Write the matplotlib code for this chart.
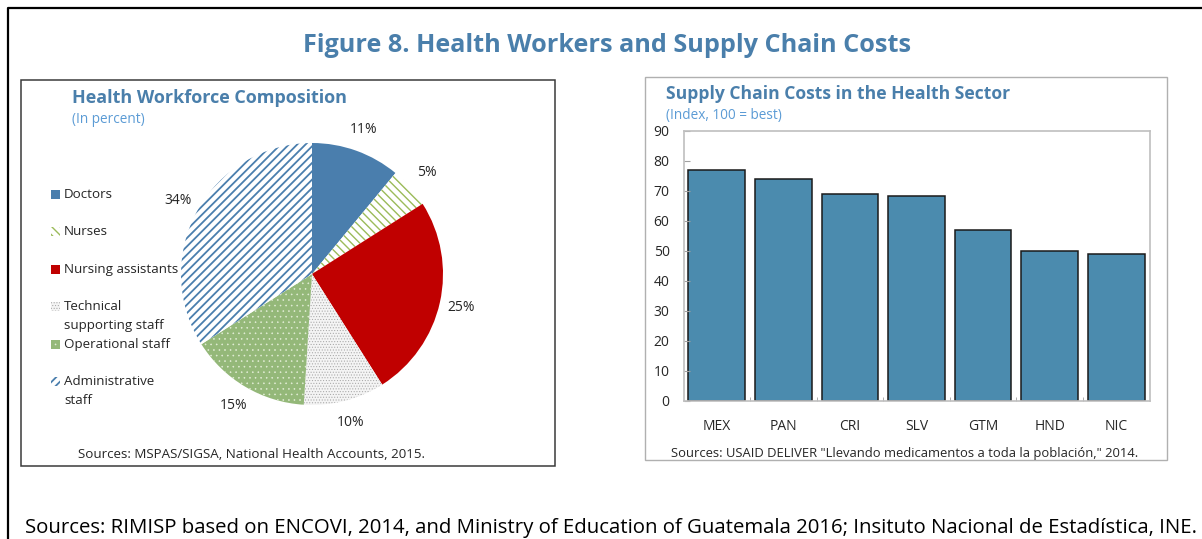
import matplotlib
matplotlib.use('Agg')
import matplotlib.pyplot as plt
from matplotlib.patches import Rectangle

plt.rcParams['font.family'] = ['Open Sans', 'DejaVu Sans']
plt.rcParams['hatch.linewidth'] = 1.2

# Composición del personal de salud (%)
cargos = ['Doctors', 'Nurses', 'Nursing assistants', 'Technical\nsupporting staff',
          'Operational staff', 'Administrative\nstaff']
porcentajes = [11, 5, 25, 10, 15, 34]

# Costos de la cadena de suministro (índice, 100 = mejor)
paises = ['MEX', 'PAN', 'CRI', 'SLV', 'GTM', 'HND', 'NIC']
indice = [77, 74, 69, 68.5, 57, 50, 49]

AZUL = '#4a7ead'
VERDE = '#9bbb59'
ROJO = '#c00000'
TITULO = '#4a7fab'
SUBTITULO = '#5b9bd5'
TEXTO = '#262626'

# estilo de cada porción: (relleno, color del patrón, patrón, grosor del patrón)
estilos = [
    (AZUL, AZUL, None, 1.0),
    ('white', VERDE, '\\\\\\\\', 1.0),
    (ROJO, ROJO, None, 1.0),
    ('#f4f4f4', '#a8a8a8', '......', 0.45),
    ('#94b879', '#e4eed8', '...', 0.4),
    ('white', AZUL, '////', 1.3),
]

W, H = 1202, 539
fig = plt.figure(figsize=(W / 100, H / 100), dpi=100)


def caja(x0, y0, x1, y1):
    # rectángulo en píxeles (origen arriba a la izquierda) -> fracción de figura
    return [x0 / W, 1 - y1 / H, (x1 - x0) / W, (y1 - y0) / H]


def aplicar(parche, estilo):
    cara, linea, patron, grosor = estilo
    parche.set_facecolor(cara)
    parche.set_edgecolor(linea)
    parche.set_linewidth(0)
    parche.set_hatch(patron)
    parche.set_hatch_linewidth(grosor)


# capa de fondo en píxeles para marcos y textos
fondo = fig.add_axes([0, 0, 1, 1])
fondo.set_xlim(0, W)
fondo.set_ylim(H, 0)
fondo.axis('off')

fondo.plot([8, 8, W], [H, 8, 8], color='black', lw=1.6, solid_capstyle='butt')
fondo.add_patch(Rectangle((21, 80), 534, 386, fill=False, ec='#3a3a3a', lw=1.1))
fondo.add_patch(Rectangle((645, 77), 522, 383, fill=False, ec='#b0b0b0', lw=1.0))

fondo.text(607, 45, 'Figure 8. Health Workers and Supply Chain Costs', ha='center', va='center',
           fontsize=18.2, fontweight='bold', color=TITULO)
fondo.text(72, 98, 'Health Workforce Composition', ha='left', va='center',
           fontsize=13, fontweight='bold', color=TITULO)
fondo.text(72, 119.5, '(In percent)', ha='left', va='center', fontsize=9.8, color=SUBTITULO)
fondo.text(251, 454, 'Sources: MSPAS/SIGSA, National Health Accounts, 2015.', ha='center',
           va='center', fontsize=9.6, color=TEXTO)

fondo.text(666, 94, 'Supply Chain Costs in the Health Sector', ha='left', va='center',
           fontsize=12.6, fontweight='bold', color=TITULO)
fondo.text(666, 116, '(Index, 100 = best)', ha='left', va='center', fontsize=9.8, color=SUBTITULO)
fondo.text(905, 453, 'Sources: USAID DELIVER "Llevando medicamentos a toda la población," 2014.',
           ha='center', va='center', fontsize=9.4, color=TEXTO)

fondo.text(611, 528, 'Sources: RIMISP based on ENCOVI, 2014, and Ministry of Education of Guatemala 2016; '
           'Insituto Nacional de Estadística, INE.', ha='center', va='center', fontsize=14.7, color='black')

# leyenda del gráfico de pastel
for i, (cargo, estilo) in enumerate(zip(cargos, estilos)):
    y = 194.5 + i * 37.4
    icono = fondo.add_patch(Rectangle((51, y - 4.5), 9, 9))
    aplicar(icono, estilo)
    for j, renglon in enumerate(cargo.split('\n')):
        fondo.text(64, y + j * 18.5, renglon, ha='left', va='center', fontsize=9.6, color=TEXTO)

# gráfico de pastel
ax1 = fig.add_axes(caja(312 - 131, 274 - 131, 312 + 131, 274 + 131))
cunas, textos, pct = ax1.pie(porcentajes, startangle=90, counterclock=False,
                             autopct=lambda p: f'{p:.0f}%', pctdistance=1.17,
                             textprops=dict(fontsize=10, color=TEXTO))
for cuna, estilo in zip(cunas, estilos):
    aplicar(cuna, estilo)
ax1.set_xlim(-1, 1)
ax1.set_ylim(-1, 1)
ax1.axis('off')

# gráfico de barras
ax2 = fig.add_axes(caja(683.5, 131, 1149.5, 401))
ax2.bar(range(len(paises)), indice, width=0.85, color='#4b8bae', edgecolor='#1a1a1a', linewidth=1.1)
ax2.set_xlim(-0.5, len(paises) - 0.5)
ax2.set_ylim(0, 90)
ax2.set_yticks(range(0, 91, 10))
ax2.set_xticks(range(len(paises)))
ax2.set_xticklabels(paises)
ax2.set_xticks([k + 0.5 for k in range(len(paises) - 1)], minor=True)
ax2.tick_params(axis='y', direction='in', length=4, color='#a0a0a0', pad=10, labelsize=10,
                labelcolor=TEXTO)
ax2.tick_params(axis='x', which='major', length=0, pad=13, labelsize=10, labelcolor=TEXTO)
ax2.tick_params(axis='x', which='minor', direction='in', length=3, color='#a0a0a0')
for lado in ax2.spines.values():
    lado.set_color('#bfbfbf')
    lado.set_linewidth(1.2)

plt.savefig('out.png', dpi=100)
